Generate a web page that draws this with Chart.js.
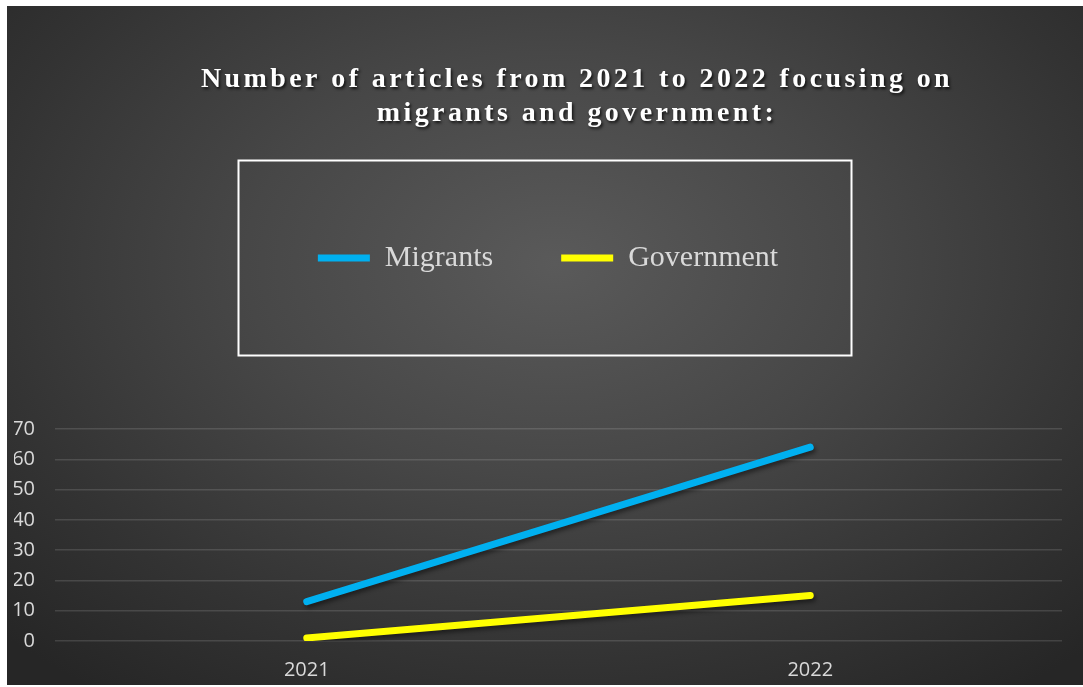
<!DOCTYPE html>
<html>
<head>
<meta charset="utf-8">
<title>Articles on migrants and government</title>
<script src="https://cdn.jsdelivr.net/npm/chart.js@4.4.0/dist/chart.umd.min.js"></script>
<style>
  html, body { margin: 0; background: #ffffff; }
  #articlesChart {
    position: absolute;
    left: 7px;
    top: 6px;
    background: radial-gradient(ellipse 72% 78% at 51% 38%, #5a5a5a 0%, #474747 40%, #333333 75%, #262626 100%);
  }
</style>
</head>
<body>
<canvas id="articlesChart" width="1076" height="679"></canvas>
<script>
const years = ['2021', '2022'];
const migrants = [13, 64];
const government = [1, 15];
const titleLines = ['Number of articles from 2021 to 2022 focusing on', 'migrants and government:'];
const yMin = 0;
const yMax = 70;
const yStep = 10;

// two-line spaced title with a soft drop shadow
const spacedTitle = {
    id: 'spacedTitle',
    afterDraw(chart) {
        const ctx = chart.ctx;
        ctx.save();
        ctx.font = 'bold 28px "Liberation Serif", "Times New Roman", serif';
        ctx.letterSpacing = '3.4px';
        ctx.textAlign = 'center';
        ctx.textBaseline = 'alphabetic';
        ctx.fillStyle = '#ffffff';
        ctx.shadowColor = 'rgba(0, 0, 0, 0.75)';
        ctx.shadowBlur = 3;
        ctx.shadowOffsetX = 1.5;
        ctx.shadowOffsetY = 2;
        titleLines.forEach((line, i) => ctx.fillText(line, 570, 81 + i * 34));
        ctx.restore();
    }
};

// white frame around the legend row
const legendFrame = {
    id: 'legendFrame',
    afterDraw(chart) {
        const hit = chart.legend.legendHitBoxes[0];
        if (!hit) return;
        const cx = chart.width / 2;
        const cy = hit.top + hit.height / 2;
        const ctx = chart.ctx;
        ctx.save();
        ctx.strokeStyle = '#ffffff';
        ctx.lineWidth = 2;
        ctx.strokeRect(cx - 306.5, cy - 97.5, 613, 195);
        ctx.restore();
    }
};

// shadow under the data lines
const lineShadow = {
    id: 'lineShadow',
    beforeDatasetsDraw(chart) {
        const ctx = chart.ctx;
        ctx.save();
        ctx.shadowColor = 'rgba(0, 0, 0, 0.45)';
        ctx.shadowBlur = 4;
        ctx.shadowOffsetX = 2;
        ctx.shadowOffsetY = 3;
    },
    afterDatasetsDraw(chart) {
        chart.ctx.restore();
    }
};

const tickFont = { family: '"Open Sans", sans-serif', size: 20 };

const ctx = document.getElementById('articlesChart').getContext('2d');
new Chart(ctx, {
    type: 'line',
    data: {
        labels: years,
        datasets: [{
            label: 'Migrants',
            data: migrants,
            borderColor: '#00b0f0',
            backgroundColor: '#00b0f0',
            borderWidth: 7,
            borderCapStyle: 'round',
            pointRadius: 0,
            pointHoverRadius: 0,
            pointStyle: 'line',
            fill: false,
            tension: 0
        }, {
            label: 'Government',
            data: government,
            borderColor: '#ffff00',
            backgroundColor: '#ffff00',
            borderWidth: 7,
            borderCapStyle: 'round',
            pointRadius: 0,
            pointHoverRadius: 0,
            pointStyle: 'line',
            fill: false,
            tension: 0
        }]
    },
    options: {
        responsive: false,
        animation: false,
        layout: {
            padding: { top: 169, left: 7, right: 1, bottom: 6 }
        },
        scales: {
            x: {
                offset: true,
                grid: { display: false },
                border: { display: false },
                ticks: {
                    color: '#d9d9d9',
                    padding: 9,
                    font: tickFont
                },
                afterFit(scale) {
                    scale.height = 38;
                }
            },
            y: {
                min: yMin,
                max: yMax,
                grid: {
                    color: 'rgba(255, 255, 255, 0.13)',
                    lineWidth: 1.5,
                    drawTicks: false
                },
                border: { display: false },
                ticks: {
                    stepSize: yStep,
                    color: '#d9d9d9',
                    padding: 20,
                    font: tickFont
                },
                afterFit(scale) {
                    scale.width = 41;
                }
            },
            // blank margin strip on the right of the plot
            gutter: {
                axis: 'y',
                position: 'right',
                grid: { display: false },
                border: { display: false },
                ticks: { display: false },
                afterFit(scale) {
                    scale.width = 20;
                }
            }
        },
        plugins: {
            legend: {
                position: 'top',
                labels: {
                    usePointStyle: true,
                    pointStyleWidth: 52,
                    padding: 68,
                    color: '#d9d9d9',
                    font: { family: '"Liberation Serif", "Times New Roman", serif', size: 30 }
                }
            },
            // empty block that keeps the gap between the legend and the plot
            subtitle: {
                display: true,
                text: '',
                position: 'top',
                weight: 500,
                font: { size: 10, lineHeight: 1 },
                padding: { top: 136, bottom: 0 }
            },
            tooltip: { enabled: false }
        }
    },
    plugins: [lineShadow, legendFrame, spacedTitle]
});
</script>
</body>
</html>
